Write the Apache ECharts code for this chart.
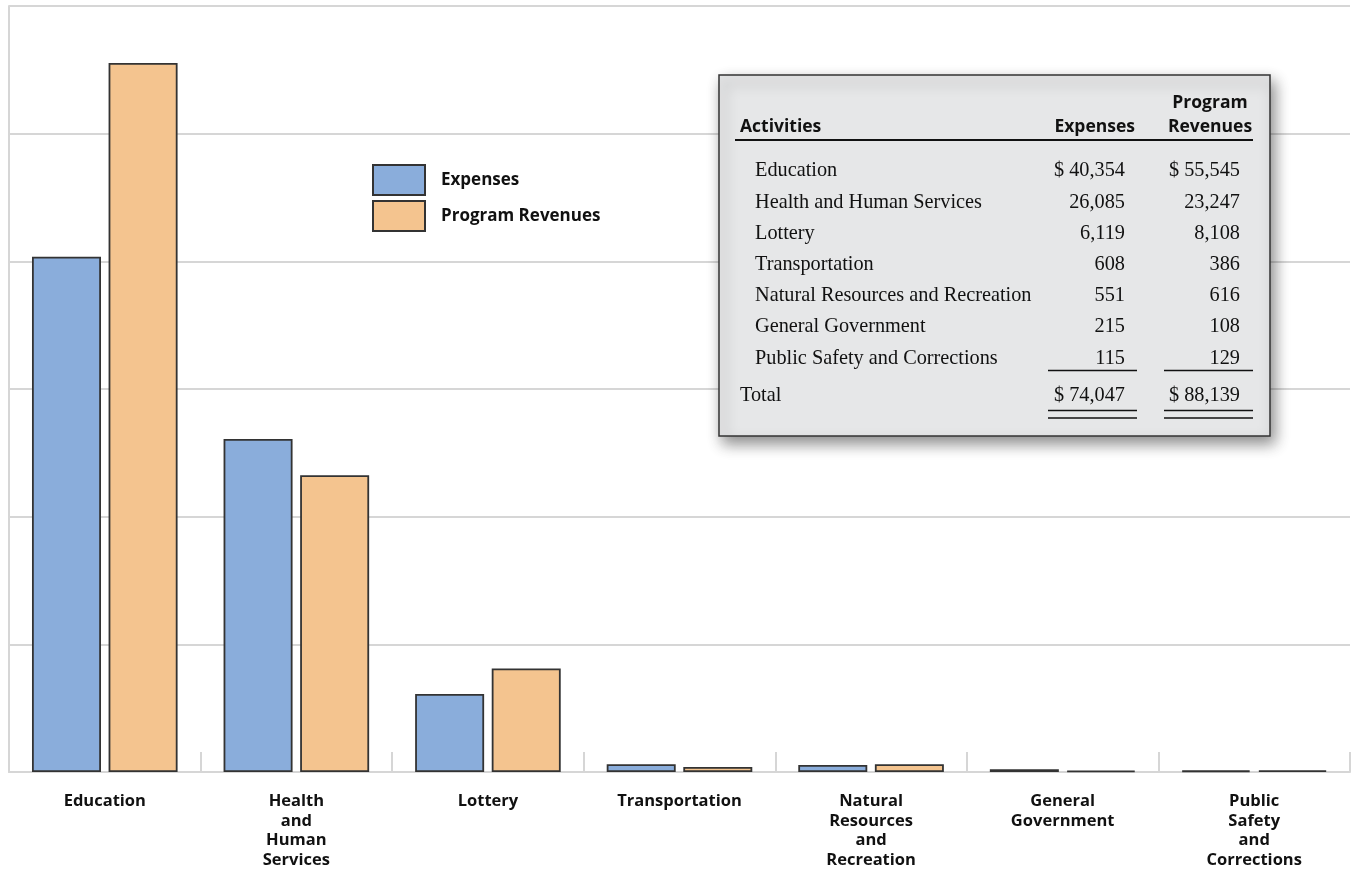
<!DOCTYPE html>
<html><head><meta charset="utf-8">
<script src="https://cdn.jsdelivr.net/npm/echarts@6/dist/echarts.min.js"></script>
<style>html,body{margin:0;padding:0;background:#fff}#c{width:1353px;height:873px}</style>
</head><body><div id="c"></div>
<script>
const categories = ["Education","Health and Human Services","Lottery","Transportation","Natural Resources and Recreation","General Government","Public Safety and Corrections"];
const expenses = [40354, 26085, 6119, 608, 551, 215, 115];
const revenues = [55545, 23247, 8108, 386, 616, 108, 129];
const seriesNames = ["Expenses","Program Revenues"];
const yTicks = [0, 10000, 20000, 30000, 40000, 50000, 60000];

const fmt = n => n.toLocaleString('en-US');
const totalExp = expenses.reduce((a,b)=>a+b,0);
const totalRev = revenues.reduce((a,b)=>a+b,0);

const SANS = '"Open Sans", "Noto Sans", sans-serif';
const SERIF = '"Liberation Serif", "DejaVu Serif", serif';

// Table graphic
const tbl = [];
const bx = 719, by = 75, bw = 551, bh = 361;
tbl.push({type:'rect', shape:{x:bx,y:by,width:bw,height:bh}, style:{fill:'#e6e7e8', stroke:'#333', lineWidth:1.5, shadowBlur:14, shadowOffsetX:4, shadowOffsetY:7, shadowColor:'rgba(0,0,0,0.45)'}, z:100});
const hdr = (t,x,y,align)=>({type:'text', x, y, z:101, style:{text:t, fill:'#111', font:'bold 17.5px '+SANS, textAlign:align, textVerticalAlign:'middle'}});
tbl.push(hdr('Activities', 740, 127, 'left'));
tbl.push(hdr('Expenses', 1135, 127, 'right'));
tbl.push(hdr('Program', 1210, 103, 'center'));
tbl.push(hdr('Revenues', 1210, 127, 'center'));
tbl.push({type:'line', z:101, shape:{x1:735,y1:140,x2:1253,y2:140}, style:{stroke:'#111', lineWidth:2}});
const cell = (t,x,y,align)=>({type:'text', x, y, z:101, style:{text:t, fill:'#111', font:'20.3px '+SERIF, textAlign:align, textVerticalAlign:'middle'}});
categories.forEach((c,i)=>{
  const y = 171 + i*31.2;
  tbl.push(cell(c, 755, y, 'left'));
  tbl.push(cell((i===0?'$ ':'')+fmt(expenses[i]), 1125, y, 'right'));
  tbl.push(cell((i===0?'$ ':'')+fmt(revenues[i]), 1240, y, 'right'));
});
tbl.push({type:'line', z:101, shape:{x1:1048,y1:370.5,x2:1137,y2:370.5}, style:{stroke:'#111', lineWidth:1.5}});
tbl.push({type:'line', z:101, shape:{x1:1164,y1:370.5,x2:1253,y2:370.5}, style:{stroke:'#111', lineWidth:1.5}});
tbl.push(cell('Total', 740, 396, 'left'));
tbl.push(cell('$ '+fmt(totalExp), 1125, 396, 'right'));
tbl.push(cell('$ '+fmt(totalRev), 1240, 396, 'right'));
[410.5, 418].forEach(y=>{
  tbl.push({type:'line', z:101, shape:{x1:1048,y1:y,x2:1137,y2:y}, style:{stroke:'#111', lineWidth:1.5}});
  tbl.push({type:'line', z:101, shape:{x1:1164,y1:y,x2:1253,y2:y}, style:{stroke:'#111', lineWidth:1.5}});
});

const chart = echarts.init(document.getElementById('c'), null, {renderer:'canvas'});
chart.setOption({
  animation:false,
  backgroundColor:'#fff',
  grid:{left:9, right:3, top:6, bottom:101, containLabel:false},
  legend:{
    data:seriesNames, orient:'vertical', left:372, top:164, itemWidth:52, itemHeight:30, itemGap:4, padding:0,
    icon:'rect',
    textStyle:{fontFamily:SANS, fontWeight:'bold', fontSize:17, color:'#111', padding:[0,0,0,11]}
  },
  xAxis:{
    type:'category', data:categories.map(c=>c.replace(/ /g,'\n')),
    axisLine:{show:true, lineStyle:{color:'#d6d6d6', width:2}},
    axisTick:{show:true, inside:true, length:20, lineStyle:{color:'#d6d6d6', width:2}},
    axisLabel:{fontFamily:SANS, fontWeight:'bold', fontSize:16.5, color:'#111', margin:20, lineHeight:19.5, interval:0}
  },
  yAxis:{
    type:'value', min:yTicks[0], max:yTicks[yTicks.length-1], interval:yTicks[1]-yTicks[0],
    axisLabel:{show:false}, axisTick:{show:false},
    axisLine:{show:true, lineStyle:{color:'#d6d6d6', width:2}},
    splitLine:{show:true, lineStyle:{color:'#d6d6d6', width:2}}
  },
  series:[
    {name:seriesNames[0], type:'bar', data:expenses, barWidth:69, barGap:'11%',
     itemStyle:{color:'#8aaddb', borderColor:'#333', borderWidth:1.8}},
    {name:seriesNames[1], type:'bar', data:revenues, barWidth:69, barGap:'11%',
     itemStyle:{color:'#f4c48f', borderColor:'#333', borderWidth:1.8}}
  ],
  graphic:tbl
});
</script></body></html>
